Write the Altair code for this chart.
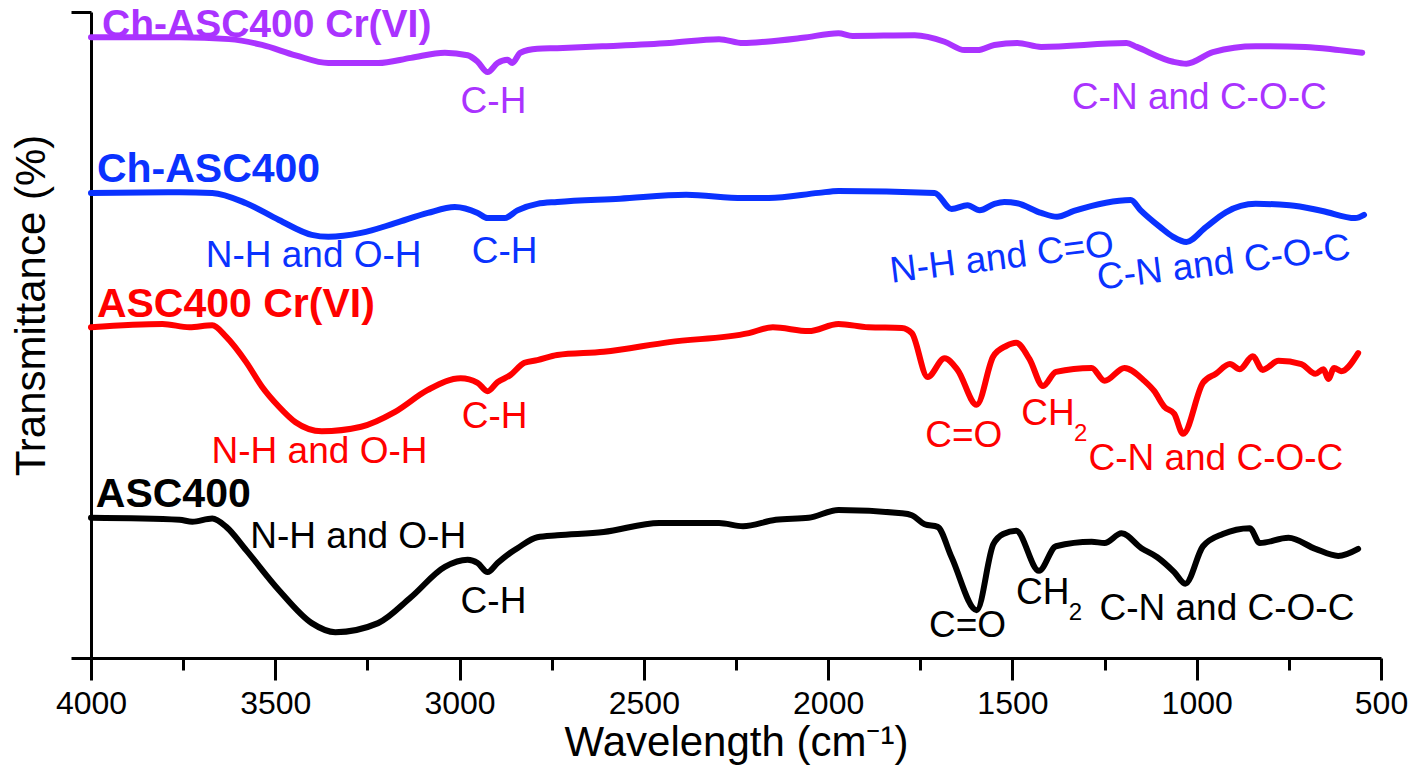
import altair as alt
import pandas as pd

FONT = "Liberation Sans"

series_names = ["Ch-ASC400 Cr(VI)", "Ch-ASC400", "ASC400 Cr(VI)", "ASC400"]
series_colors = ["#AA33FF", "#0A32FF", "#FF0000", "#000000"]

# Ch-ASC400 Cr(VI)
wn_purple = [4000, 3760, 3625, 3536, 3445, 3356, 3221, 3132, 3040, 2978, 2951, 2924, 2897, 2870, 2857,
             2835, 2789, 2735, 2609, 2431, 2296, 2231, 2169, 2069, 1972, 1934, 1765, 1684, 1630, 1595,
             1549, 1487, 1422, 1190, 1163, 1064, 1028, 956, 840, 705, 613, 551]
t_purple = [96.1, 96.1, 95.8, 94.9, 93.3, 92.1, 92.1, 92.9, 93.7, 93.3, 92.3, 90.7, 92.1, 92.6, 92.1,
            93.7, 94.3, 94.4, 94.7, 95.2, 95.8, 95.2, 95.4, 96.0, 96.7, 96.3, 96.4, 95.4, 94.1, 94.1,
            94.9, 95.2, 94.6, 95.2, 94.6, 92.3, 92.0, 93.8, 94.7, 94.6, 94.1, 93.7]

# Ch-ASC400
wn_blue = [4000, 3760, 3671, 3579, 3490, 3401, 3356, 3267, 3175, 3086, 3013, 2951, 2924, 2878, 2843,
           2789, 2735, 2565, 2385, 2231, 2161, 2026, 1972, 1711, 1665, 1622, 1589, 1549, 1522, 1487,
           1422, 1379, 1333, 1179, 1152, 1099, 1064, 1028, 975, 921, 840, 748, 659, 570, 546]
t_blue = [72.0, 72.1, 72.0, 70.4, 67.8, 65.5, 65.2, 65.8, 67.3, 68.9, 69.8, 68.9, 68.1, 68.1, 69.3,
          70.3, 70.6, 71.1, 71.7, 71.2, 71.2, 72.0, 72.3, 72.0, 69.5, 70.1, 69.3, 70.3, 70.6, 70.4,
          68.9, 68.3, 69.2, 70.9, 69.3, 66.7, 65.2, 64.4, 66.7, 69.0, 70.3, 70.1, 69.2, 68.1, 68.6]

# ASC400 Cr(VI)
wn_red = [4000, 3806, 3733, 3671, 3633, 3579, 3536, 3490, 3445, 3374, 3267, 3175, 3086, 2997, 2951,
          2924, 2897, 2862, 2824, 2789, 2735, 2609, 2431, 2215, 2150, 2053, 1972, 1891, 1800, 1773,
          1730, 1684, 1649, 1597, 1552, 1517, 1490, 1454, 1417, 1382, 1285, 1250, 1196, 1142, 1115,
          1088, 1061, 1037, 983, 948, 910, 883, 848, 821, 778, 716, 678, 656, 643, 627, 608, 562]
t_red = [51.2, 51.7, 51.2, 51.5, 49.7, 45.8, 42.0, 38.9, 36.5, 35.1, 35.8, 38.1, 41.5, 43.3, 42.6,
         41.3, 42.7, 43.8, 45.7, 46.1, 46.9, 47.4, 48.9, 50.3, 51.2, 50.6, 51.7, 51.2, 51.1, 50.3,
         43.5, 46.4, 44.6, 39.2, 46.7, 48.3, 48.8, 46.3, 42.1, 44.3, 44.9, 42.9, 44.9, 42.9, 41.3,
         38.9, 37.8, 34.7, 42.6, 44.0, 45.5, 44.7, 46.7, 44.6, 46.0, 45.5, 44.0, 44.7, 43.2, 44.9, 44.4, 47.2]

# ASC400
wn_black = [4000, 3760, 3725, 3671, 3633, 3579, 3490, 3401, 3337, 3221, 3132, 3040, 2978, 2951, 2924,
            2897, 2862, 2843, 2789, 2735, 2609, 2458, 2296, 2231, 2142, 2053, 1972, 1800, 1773, 1738,
            1703, 1665, 1597, 1552, 1525, 1490, 1428, 1382, 1285, 1250, 1204, 1150, 1107, 1061, 1031,
            983, 929, 856, 829, 751, 678, 616, 562]
t_black = [21.7, 21.4, 21.1, 21.6, 20.3, 16.7, 10.5, 5.4, 4.0, 5.4, 9.4, 14.1, 15.2, 14.7, 13.3,
           14.7, 16.3, 17.0, 18.7, 19.0, 19.5, 20.9, 20.9, 20.4, 21.4, 21.7, 22.9, 22.4, 22.1, 20.7,
           20.3, 15.6, 7.4, 17.6, 19.2, 19.7, 13.5, 17.3, 18.0, 17.8, 19.3, 17.0, 15.6, 13.3, 11.5,
           17.3, 19.2, 20.1, 17.8, 18.6, 16.9, 15.8, 16.9]

major_ticks = [4000, 3500, 3000, 2500, 2000, 1500, 1000, 500]
minor_ticks = [3750, 3250, 2750, 2250, 1750, 1250, 750]

# series name labels (bold); the top one sits against the chart's upper edge
top_text = ["Ch-ASC400 Cr(VI)"]
top_wn = [3970]
top_t = [96.2]
top_color = ["#AA33FF"]

bold_text = ["Ch-ASC400", "ASC400 Cr(VI)", "ASC400"]
bold_wn = [3984, 3984, 3987]
bold_t = [73.7, 52.8, 23.4]
bold_color = ["#0A32FF", "#FF0000", "#000000"]

# band annotations
ann_text = ["C-H", "C-N and C-O-C", "N-H and O-H", "C-H", "N-H and O-H", "C-H", "C=O",
            "C-N and C-O-C", "N-H and O-H", "C-H", "C=O", "C-N and C-O-C"]
ann_wn = [2908, 993, 3396, 2878, 3380, 2905, 1632, 948, 3275, 2908, 1622, 918]
ann_t = [84.4, 85.0, 60.5, 61.1, 30.2, 35.6, 32.7, 29.1, 17.0, 7.0, 3.3, 5.9]
ann_color = ["#AA33FF", "#AA33FF", "#0A32FF", "#0A32FF", "#FF0000", "#FF0000", "#FF0000",
             "#FF0000", "#000000", "#000000", "#000000", "#000000"]

rot_text = ["N-H and C=O", "C-N and C-O-C"]
rot_wn = [1525, 923]
rot_t = [60.2, 59.4]
rot_color = ["#0A32FF", "#0A32FF"]

ch_text = ["CH", "CH"]
ch_wn = [1476, 1490]
ch_t = [36.1, 8.4]
ch_color = ["#FF0000", "#000000"]

sub_text = ["2", "2"]
sub_wn = [1333, 1347]
sub_t = [33.6, 5.9]
sub_color = ["#FF0000", "#000000"]

rows = []
for name, wns, ts in zip(series_names, [wn_purple, wn_blue, wn_red, wn_black],
                         [t_purple, t_blue, t_red, t_black]):
    for w, t in zip(wns, ts):
        rows.append({"series": name, "wn": w, "T": t})
lines_df = pd.DataFrame(rows)

x_scale = alt.Scale(domain=[4000, 500], nice=False, zero=False)
y_scale = alt.Scale(domain=[0, 100], nice=False, zero=False)
color_scale = alt.Scale(domain=series_names, range=series_colors)

x_major = alt.Axis(values=major_ticks, orient="bottom", tickSize=22, tickWidth=3, tickColor="black",
                   domainWidth=3, domainColor="black", labelFontSize=32, labelFont=FONT,
                   labelColor="black", labelPadding=8, labelFlush=False, labelOverlap=False,
                   grid=False, title="Wavelength (cm⁻¹)", titleFont=FONT, titleFontSize=42,
                   titleFontWeight="normal", titleColor="black", titleY=97,
                   titleBaseline="alphabetic", format="d")
x_minor = alt.Axis(values=minor_ticks, orient="bottom", tickSize=12, tickWidth=3, tickColor="black",
                   labels=False, domain=False, grid=False, title="")
y_axis = alt.Axis(values=[0, 100], tickSize=20, tickWidth=3, tickColor="black", labels=False,
                  domainWidth=3, domainColor="black", grid=False, title="Transmittance (%)",
                  titleFont=FONT, titleFontSize=42, titleFontWeight="normal", titleColor="black",
                  titleAngle=270, titleX=-47, titleY=293, titleBaseline="alphabetic",
                  titleAlign="center")

lines = alt.Chart(lines_df).mark_line(
    strokeWidth=6, interpolate="monotone", strokeCap="round", strokeJoin="round"
).encode(
    x=alt.X("wn:Q", scale=x_scale, axis=x_major),
    y=alt.Y("T:Q", scale=y_scale, axis=y_axis),
    color=alt.Color("series:N", scale=color_scale, legend=None),
)


def text_layer(texts, wns, ts, colors, axis_x=None, **mark_kw):
    df = pd.DataFrame({"text": texts, "wn": wns, "T": ts, "color": colors})
    return alt.Chart(df).mark_text(font=FONT, baseline="alphabetic", **mark_kw).encode(
        x=alt.X("wn:Q", scale=x_scale, axis=axis_x),
        y=alt.Y("T:Q", scale=y_scale, axis=None),
        text="text:N",
        color=alt.Color("color:N", scale=None),
    )


bold = text_layer(bold_text, bold_wn, bold_t, bold_color, axis_x=x_minor,
                  fontSize=41, fontWeight="bold", align="left")
top = text_layer(top_text, top_wn, top_t, top_color,
                 fontSize=39, fontWeight="bold", align="left")
ann = text_layer(ann_text, ann_wn, ann_t, ann_color, fontSize=37, align="center")
rot = text_layer(rot_text, rot_wn, rot_t, rot_color, fontSize=37, align="center", angle=353)
ch = text_layer(ch_text, ch_wn, ch_t, ch_color, fontSize=37, align="left")
sub = text_layer(sub_text, sub_wn, sub_t, sub_color, fontSize=24, align="left")

chart = alt.layer(lines, bold, top, ann, rot, ch, sub).resolve_axis(
    x="independent", y="independent"
).properties(
    width=1290, height=646,
    padding={"left": 83, "top": 4, "right": 29, "bottom": 108},
    autosize=alt.AutoSizeParams(type="none"),
    background="white",
).configure_view(stroke=None)

chart.save("out.html", embed_options={"renderer": "svg", "actions": False})
